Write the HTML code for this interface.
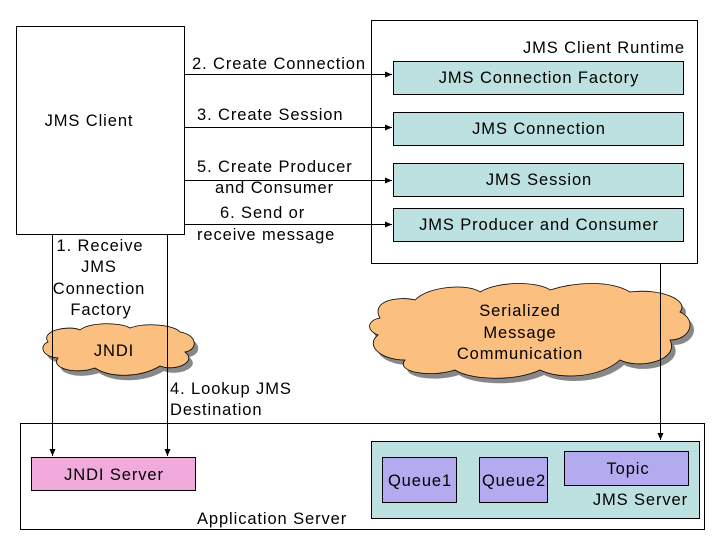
<!DOCTYPE html>
<html><head><style>body{margin:0;background:#fff}</style></head><body>
<svg width="720" height="540" xmlns="http://www.w3.org/2000/svg" font-family="Liberation Sans, Arial, sans-serif" font-size="16.5" letter-spacing="0.9">
<defs><marker id="a" markerWidth="8" markerHeight="8" refX="7" refY="4" orient="auto" markerUnits="userSpaceOnUse"><path d="M0,1 L7,4 L0,7z" fill="#000"/></marker></defs>
<rect x="0" y="0" width="720" height="540" fill="#fff"/>
<rect x="16.5" y="26.5" width="168" height="208" fill="#fff" stroke="#000"/>
<text x="89" y="126" text-anchor="middle">JMS Client</text>
<rect x="371.5" y="20.5" width="326" height="243" fill="#fff" stroke="#000"/>
<text x="685" y="53" text-anchor="end">JMS Client Runtime</text>
<g fill="#bde0e0" stroke="#000">
<rect x="393.5" y="61.5" width="290" height="33"/>
<rect x="393.5" y="112.5" width="290" height="33"/>
<rect x="393.5" y="163.5" width="290" height="33"/>
<rect x="393.5" y="208.5" width="290" height="33"/>
</g>
<g text-anchor="middle">
<text x="539" y="83">JMS Connection Factory</text>
<text x="539" y="134">JMS Connection</text>
<text x="539" y="185">JMS Session</text>
<text x="539" y="230">JMS Producer and Consumer</text>
</g>
<g stroke="#000" marker-end="url(#a)">
<line x1="185" y1="74.5" x2="392" y2="74.5"/>
<line x1="185" y1="127.5" x2="392" y2="127.5"/>
<line x1="185" y1="180.5" x2="392" y2="180.5"/>
<line x1="185" y1="224.5" x2="392" y2="224.5"/>
</g>
<text x="192" y="69">2. Create Connection</text>
<text x="197" y="120">3. Create Session</text>
<text x="197" y="172">5. Create Producer</text>
<text x="215" y="193">and Consumer</text>
<text x="220" y="218">6. Send or</text>
<text x="197" y="240">receive message</text>
<rect x="20.5" y="423.5" width="684" height="106" fill="#fff" stroke="#000"/>
<text x="197" y="524">Application Server</text>
<rect x="31.5" y="457.5" width="164" height="33" fill="#f0aadc" stroke="#000"/>
<text x="114" y="480" text-anchor="middle">JNDI Server</text>
<rect x="371.5" y="441.5" width="328" height="77" fill="#bde0e0" stroke="#000"/>
<g fill="#b4aaf0" stroke="#000">
<rect x="382.5" y="457.5" width="74" height="45"/>
<rect x="479.5" y="457.5" width="68" height="45"/>
<rect x="564.5" y="451.5" width="124" height="34"/>
</g>
<text x="420" y="486" text-anchor="middle">Queue1</text>
<text x="514" y="486" text-anchor="middle">Queue2</text>
<text x="628" y="474" text-anchor="middle">Topic</text>
<text x="688" y="505" text-anchor="end">JMS Server</text>
<g transform="translate(4,5)" fill="#888">
<path d="M48,342 C40,330 70,325 80,330 C90,322 120,322 130,328 C145,322 175,325 180,332 C198,335 198,350 185,352 C198,362 175,372 160,366 C140,378 110,378 95,368 C75,375 50,368 58,358 C40,356 40,345 48,342Z"/>
<path d="M380,318 C370,300 400,296 415,300 C430,285 470,284 480,292 C500,280 540,282 550,290 C575,282 610,280 630,292 C660,288 690,300 680,312 C698,320 690,340 670,340 C680,360 640,370 620,360 C600,378 560,380 540,370 C515,382 470,380 455,370 C430,378 395,372 405,360 C380,360 365,345 378,335 C365,330 368,320 380,318Z"/>
</g>
<g fill="#fbbf80" stroke="#000" stroke-width="0.8">
<path d="M48,342 C40,330 70,325 80,330 C90,322 120,322 130,328 C145,322 175,325 180,332 C198,335 198,350 185,352 C198,362 175,372 160,366 C140,378 110,378 95,368 C75,375 50,368 58,358 C40,356 40,345 48,342Z"/>
<path d="M380,318 C370,300 400,296 415,300 C430,285 470,284 480,292 C500,280 540,282 550,290 C575,282 610,280 630,292 C660,288 690,300 680,312 C698,320 690,340 670,340 C680,360 640,370 620,360 C600,378 560,380 540,370 C515,382 470,380 455,370 C430,378 395,372 405,360 C380,360 365,345 378,335 C365,330 368,320 380,318Z"/>
</g>
<text x="114" y="356" text-anchor="middle">JNDI</text>
<g text-anchor="middle">
<text x="520" y="316">Serialized</text>
<text x="520" y="338">Message</text>
<text x="520" y="359">Communication</text>
</g>
<g stroke="#000" marker-end="url(#a)">
<line x1="52.5" y1="235" x2="52.5" y2="456"/>
<line x1="167.5" y1="235" x2="167.5" y2="456"/>
<line x1="660.5" y1="264" x2="660.5" y2="440"/>
</g>
<g text-anchor="middle">
<text x="100" y="251">1. Receive</text>
<text x="99" y="272">JMS</text>
<text x="99" y="294">Connection</text>
<text x="101" y="315">Factory</text>
</g>
<text x="170" y="394">4. Lookup JMS</text>
<text x="170" y="415">Destination</text>
</svg>
</body></html>
